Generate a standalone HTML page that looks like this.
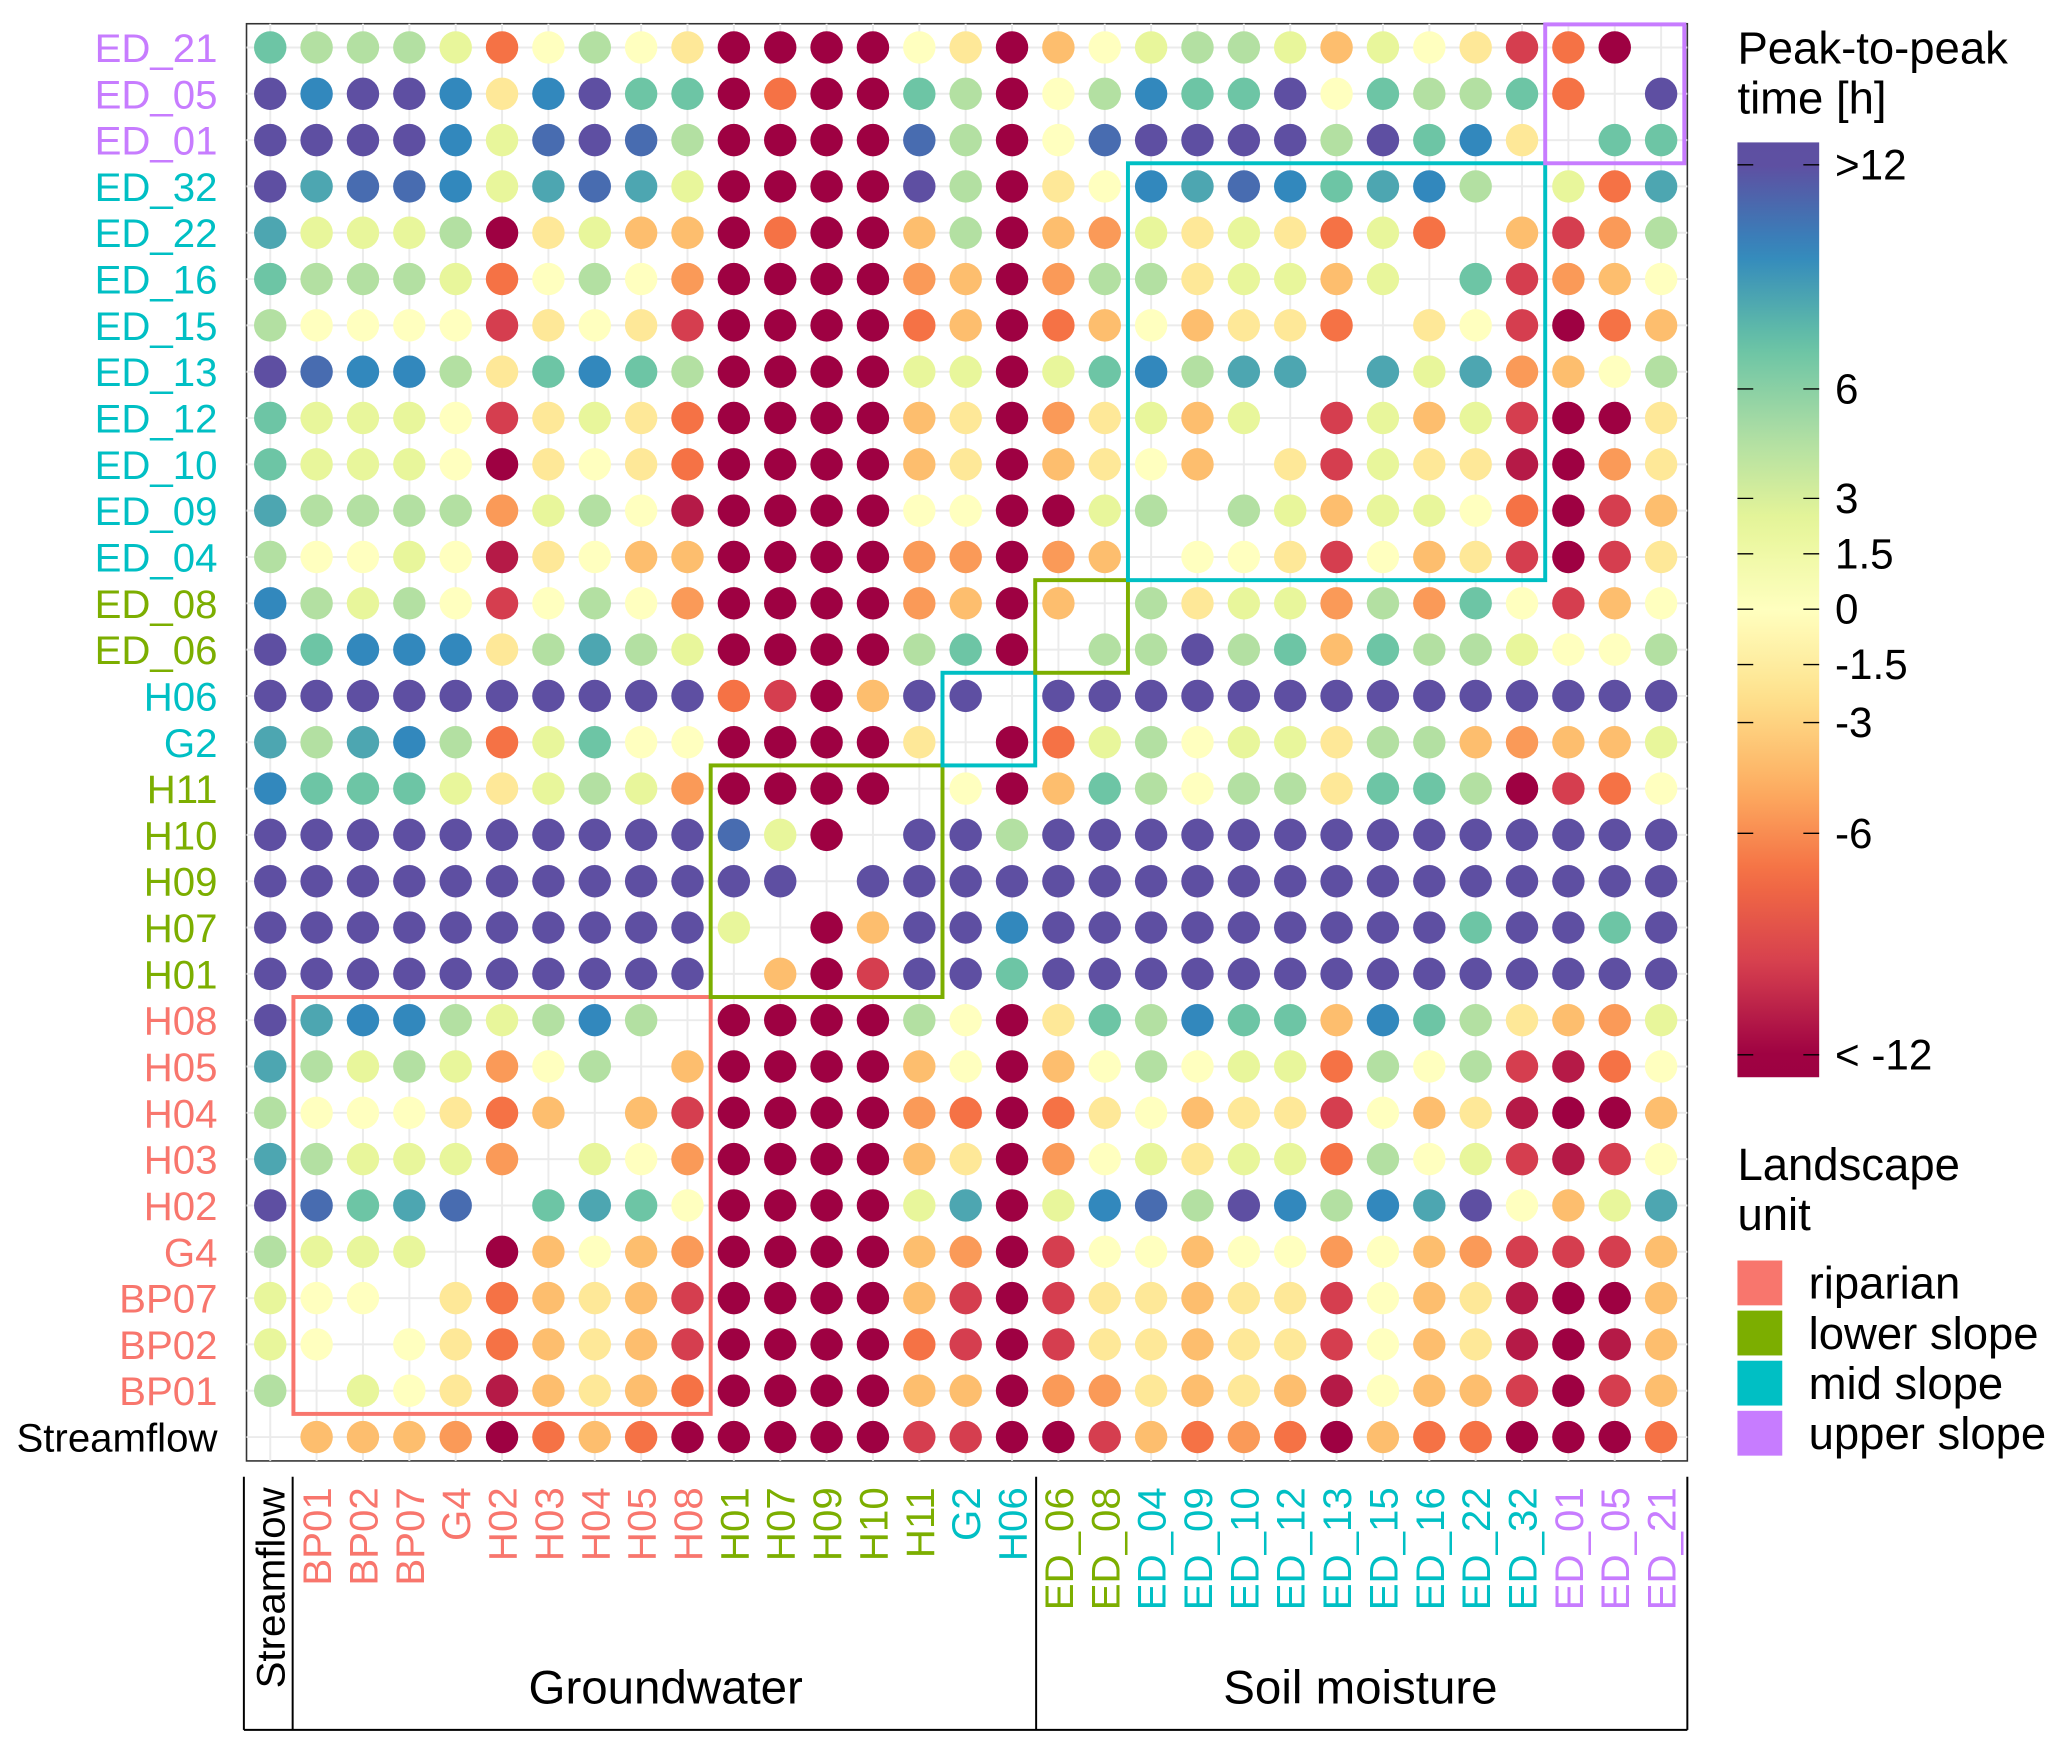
<!DOCTYPE html>
<html><head><meta charset="utf-8"><style>
html,body{margin:0;padding:0;background:#fff}
svg{display:block;font-family:"Liberation Sans",sans-serif}
</style></head><body>
<svg id="chart" width="2067" height="1751" viewBox="0 0 1568 1328" preserveAspectRatio="none" xmlns="http://www.w3.org/2000/svg">
<defs><linearGradient id="cbar" x1="0" y1="0" x2="0" y2="1"></linearGradient></defs>
<rect x="0" y="0" width="1568" height="1328" fill="#fff"/>
<g id="grid"></g><g id="dots"></g><g id="boxes"></g><g id="labels"></g><g id="legend"></g>
</svg>
<script>
const names = ["Streamflow","BP01","BP02","BP07","G4","H02","H03","H04","H05","H08","H01","H07","H09","H10","H11","G2","H06","ED_06","ED_08","ED_04","ED_09","ED_10","ED_12","ED_13","ED_15","ED_16","ED_22","ED_32","ED_01","ED_05","ED_21"];
const units = ["stream","riparian","riparian","riparian","riparian","riparian","riparian","riparian","riparian","riparian","lower","lower","lower","lower","lower","mid","mid","lower","lower","mid","mid","mid","mid","mid","mid","mid","mid","mid","upper","upper","upper"];
const rowNames = ["ED_21","ED_05","ED_01","ED_32","ED_22","ED_16","ED_15","ED_13","ED_12","ED_10","ED_09","ED_04","ED_08","ED_06","H06","G2","H11","H10","H09","H07","H01","H08","H05","H04","H03","H02","G4","BP07","BP02","BP01","Streamflow"];
const codeValues = {P:13,Q:10.8,B:9.6,C:8.4,T:7,G:4.5,L:2.2,Y:0,O:-1.8,A:-4,N:-5.5,R:-7,D:-9.6,E:-11,M:-13};
const rowCodes = [
"TGGGLRYGYOMMMMYOMAYLGGLALYODRM.",
"PBPPBOBPTTMRMMTGMYGBTTPYTGGTR.P",
"PPPPBLQPQGMMMMQGMYQPPPPGPTBO.TT",
"PCQQBLCQCLMMMMPGMOYBCQBTCBG.LRC",
"CLLLGMOLAAMRMMAGMANLOLORLR.ADNG",
"TGGGLRYGYNMMMMNAMNGGOLLAL.TDNAY",
"GYYYYDOYODMMMMRAMRAYAOOR.OYDMRA",
"PQBBGOTBTGMMMMLLMLTBGCC.CLCNAYG",
"TLLLYDOLORMMMMAOMNOLAL.DLALDMMO",
"TLLLYMOYORMMMMAOMAOYA.ODLOOEMNO",
"CGGGGNLGYEMMMMYYMMLG.GLALLYRMDA",
"GYYLYEOYAAMMMMNNMNA.YYODYAODMDO",
"BGLGYDYGYNMMMMNAMA.GOLLNGNTYDAY",
"PTBBBOGCGLMMMMGTM.GGPGTATGGLYYG",
"PPPPPPPPPPRDMAPP.PPPPPPPPPPPPPP",
"CGCBGRLTYYMMMMO.MRLGYLLOGGANAAL",
"BTTTLOLGLNMMMM.YMATGYGGOTTGMDRY",
"PPPPPPPPPPQLM.PPGPPPPPPPPPPPPPP",
"PPPPPPPPPPPP.PPPPPPPPPPPPPPPPPP",
"PPPPPPPPPPL.MAPPBPPPPPPPPPTPPTP",
"PPPPPPPPPP.AMDPPTPPPPPPPPPPPPPP",
"PCBBGLGBG.MMMMGYMOTGBTTABTGOANL",
"CGLGLNYG.AMMMMAYMAYGYLLRGYGDERY",
"GYYYORA.ADMMMMNRMROYAOODYAOEMMA",
"CGLLLN.LYNMMMMAOMNYLOLLRGYLDEDY",
"PQTCQ.TCTYMMMMLCMLBQGPBGBCPYALC",
"GLLL.MAYANMMMMANMDYYAYYNYANDDDA",
"LYY.ORAOADMMMMADMDOOAOODYAOEMMA",
"LY.YORAOADMMMMRDMDOOAOODYAOEMEA",
"G.LYOEAOARMMMMAAMNNOAOAEYAADMDA",
".AAANMRARMMMMMDDMMDARNRMARRMMMR"];
const cbTickLabels = [">12","6","3","1.5","0","-1.5","-3","-6","< -12"];
const cbTickValues = [12,6,3,1.5,0,-1.5,-3,-6,-12];
const legendUnits = ["riparian","lower slope","mid slope","upper slope"];

const unitColor = {stream:"#000000",riparian:"#F8766D",lower:"#7CAE00",mid:"#00BFC4",upper:"#C77CFF"};
const unitKeys = ["riparian","lower","mid","upper"];
const spectral = ["#9e0142","#d53e4f","#f46d43","#fdae61","#fee08b","#ffffbf","#e6f598","#abdda4","#66c2a5","#3288bd","#5e4fa2"];
const NS="http://www.w3.org/2000/svg";
const X0=205, DX=35.17, Y0=36, DY=35.13;
function xs(i){return X0+i*DX;}
function ys(j){return Y0+j*DY;}
const cbY = [125,295,378,420,462,504,548,632,800];
function valueToY(v){
  if(v>=12) return 125; if(v<=-12) return 800;
  for(let k=0;k<cbTickValues.length-1;k++){
    const a=cbTickValues[k], b=cbTickValues[k+1];
    if(v<=a && v>=b) return cbY[k]+(a-v)/(a-b)*(cbY[k+1]-cbY[k]);
  }
  return 462;
}
function hex(h){return [1,3,5].map(i=>parseInt(h.substr(i,2),16));}
function spec(f){
  f=Math.max(0,Math.min(1,f)); const p=f*10, i=Math.min(9,Math.floor(p)), t=p-i;
  const a=hex(spectral[i]), b=hex(spectral[i+1]);
  return "rgb("+a.map((c,k)=>Math.round(c+(b[k]-c)*t)).join(",")+")";
}
function color(v){return spec((800-valueToY(v))/675);}
function el(tag,attrs,parent,text){const e=document.createElementNS(NS,tag);for(const k in attrs)e.setAttribute(k,attrs[k]);if(text!==undefined)e.textContent=text;parent.appendChild(e);return e;}
const grid=document.getElementById("grid"), dots=document.getElementById("dots"), boxes=document.getElementById("boxes"), labels=document.getElementById("labels"), legend=document.getElementById("legend");
const panel=el("rect",{x:187,y:18,width:1093,height:1090,fill:"#fff",stroke:"#333",'stroke-width':1.2},grid);


for(let i=0;i<31;i++){
  const gl=el("line",{x1:xs(i),x2:xs(i),y1:18,y2:1108,stroke:"#ebebeb",'stroke-width':1.5},grid);
  
  
  const gh=el("line",{x1:187,x2:1280,y1:ys(i),y2:ys(i),stroke:"#ebebeb",'stroke-width':1.5},grid);
  
  
}
for(let r=0;r<rowCodes.length;r++){
  for(let c=0;c<rowCodes[r].length;c++){
    const ch=rowCodes[r][c]; if(ch===".") continue;
    const v=codeValues[ch];
    const d=el("circle",{cx:xs(c),cy:ys(r),r:12.3,fill:color(v)},dots);
    
    
  }
}
const boxDefs=[[1,9,"riparian"],[10,14,"lower"],[15,16,"mid"],[17,18,"lower"],[19,27,"mid"],[28,30,"upper"]];
boxDefs.forEach(b=>{
  const x1=xs(b[0])-DX/2, x2=xs(b[1])+DX/2;
  const rowIdx=k=>30-k;
  const y1=ys(rowIdx(b[1]))-DY/2, y2=ys(rowIdx(b[0]))+DY/2;
  const bx=el("rect",{x:x1,y:Math.max(18.5,y1),width:x2-x1,height:y2-Math.max(18.5,y1),fill:"none",stroke:unitColor[b[2]],'stroke-width':3},boxes);
  
  
});
for(let r=0;r<31;r++){
  const col=unitColor[units[names.indexOf(rowNames[r])]];
  const t=el("text",{x:165,y:ys(r)+11,'text-anchor':'end','font-size':30.5,fill:col},labels,rowNames[r]);
  
  
}
for(let c=0;c<31;c++){
  const x=xs(c)+11, y=1128;
  const t=el("text",{x:x,y:y,'text-anchor':'end','font-size':30.5,fill:unitColor[units[c]],transform:"rotate(-90 "+x+" "+y+")"},labels,names[c]);
  
  
}
const bl=[[185,1120,185,1312],[222,1120,222,1312],[786,1120,786,1312],[1280,1120,1280,1312],[185,1312,1280,1312]];
bl.forEach(l=>{const e=el("line",{x1:l[0],y1:l[1],x2:l[2],y2:l[3],stroke:"#000",'stroke-width':1.5},labels);
  
  });
const g1=el("text",{x:505,y:1292,'text-anchor':'middle','font-size':36,fill:"#000"},labels,"Groundwater");


const g2=el("text",{x:1032,y:1292,'text-anchor':'middle','font-size':36,fill:"#000"},labels,"Soil moisture");


const lt1=el("text",{x:1318,y:48,'font-size':34.5,fill:"#000"},legend,"Peak-to-peak");


el("text",{x:1318,y:86,'font-size':34.5,fill:"#000"},legend,"time [h]");
const grad=document.getElementById("cbar");
const barTop=108, barBot=817;
for(let k=0;k<=40;k++){
  const y=barTop+(barBot-barTop)*k/40;
  el("stop",{offset:(k/40).toFixed(4),'stop-color':spec((800-y)/675)},grad);
}
const cb=el("rect",{x:1318,y:barTop,width:62,height:barBot-barTop,fill:"url(#cbar)"},legend);


cbTickValues.forEach((v,k)=>{
  const y=valueToY(v);
  el("line",{x1:1318,x2:1330,y1:y,y2:y,stroke:"#000",'stroke-width':1},legend);
  el("line",{x1:1368,x2:1380,y1:y,y2:y,stroke:"#000",'stroke-width':1},legend);
  const t=el("text",{x:1392,y:y+11,'font-size':32,fill:"#000"},legend,cbTickLabels[k]);
  
  
});
const lt2=el("text",{x:1318,y:895,'font-size':34.5,fill:"#000"},legend,"Landscape");


el("text",{x:1318,y:933,'font-size':34.5,fill:"#000"},legend,"unit");
legendUnits.forEach((u,k)=>{
  const y=956+k*38;
  const s=el("rect",{x:1318,y:y,width:34,height:34,fill:unitColor[unitKeys[k]]},legend);
  
  
  const t=el("text",{x:1372,y:y+29,'font-size':34.5,fill:"#000"},legend,u);
  
  
});
</script>
</body></html>
